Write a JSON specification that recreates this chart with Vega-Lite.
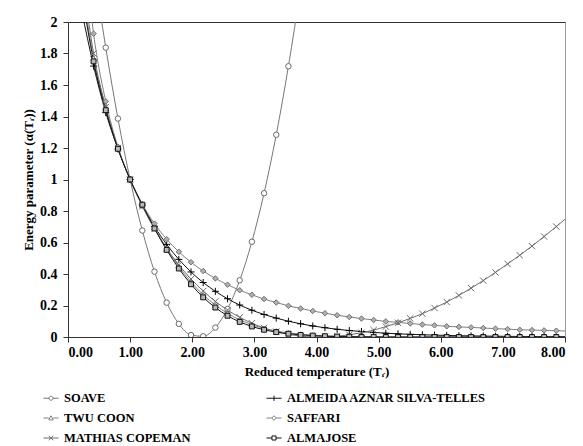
{
  "$schema": "https://vega.github.io/schema/vega-lite/v6.json",
  "width": 497,
  "height": 315,
  "autosize": {"type": "none"},
  "padding": {"left": 68, "top": 22, "right": 18, "bottom": 109},
  "background": "white",
  "config": {"view": {"stroke": "#9a9a9a", "strokeWidth": 1}, "font": "Liberation Serif"},
  "data": {"values": [
    {"T": 0.216, "SOAVE": 2.928, "ALMEIDA AZNAR SILVA-TELLES": 2.08, "TWU COON": 2.25, "SAFFARI": 2.663, "MATHIAS COPEMAN": 2.35, "ALMAJOSE": 2.2},
    {"T": 0.412, "SOAVE": 2.351, "ALMEIDA AZNAR SILVA-TELLES": 1.72, "TWU COON": 1.77, "SAFFARI": 1.926, "MATHIAS COPEMAN": 1.8, "ALMAJOSE": 1.75},
    {"T": 0.608, "SOAVE": 1.837, "ALMEIDA AZNAR SILVA-TELLES": 1.425, "TWU COON": 1.45, "SAFFARI": 1.496, "MATHIAS COPEMAN": 1.46, "ALMAJOSE": 1.44},
    {"T": 0.804, "SOAVE": 1.387, "ALMEIDA AZNAR SILVA-TELLES": 1.194, "TWU COON": 1.197, "SAFFARI": 1.208, "MATHIAS COPEMAN": 1.2, "ALMAJOSE": 1.195},
    {"T": 1.0, "SOAVE": 1, "ALMEIDA AZNAR SILVA-TELLES": 1, "TWU COON": 1, "SAFFARI": 1, "MATHIAS COPEMAN": 1, "ALMAJOSE": 1},
    {"T": 1.196, "SOAVE": 0.676, "ALMEIDA AZNAR SILVA-TELLES": 0.838, "TWU COON": 0.835, "SAFFARI": 0.843, "MATHIAS COPEMAN": 0.83, "ALMAJOSE": 0.84},
    {"T": 1.392, "SOAVE": 0.415, "ALMEIDA AZNAR SILVA-TELLES": 0.702, "TWU COON": 0.695, "SAFFARI": 0.72, "MATHIAS COPEMAN": 0.686, "ALMAJOSE": 0.689},
    {"T": 1.588, "SOAVE": 0.218, "ALMEIDA AZNAR SILVA-TELLES": 0.588, "TWU COON": 0.562, "SAFFARI": 0.621, "MATHIAS COPEMAN": 0.563, "ALMAJOSE": 0.553},
    {"T": 1.784, "SOAVE": 0.0835, "ALMEIDA AZNAR SILVA-TELLES": 0.493, "TWU COON": 0.447, "SAFFARI": 0.541, "MATHIAS COPEMAN": 0.458, "ALMAJOSE": 0.435},
    {"T": 1.98, "SOAVE": 0.0123, "ALMEIDA AZNAR SILVA-TELLES": 0.413, "TWU COON": 0.35, "SAFFARI": 0.475, "MATHIAS COPEMAN": 0.368, "ALMAJOSE": 0.335},
    {"T": 2.176, "SOAVE": 0.0044, "ALMEIDA AZNAR SILVA-TELLES": 0.346, "TWU COON": 0.268, "SAFFARI": 0.419, "MATHIAS COPEMAN": 0.292, "ALMAJOSE": 0.252},
    {"T": 2.372, "SOAVE": 0.0597, "ALMEIDA AZNAR SILVA-TELLES": 0.29, "TWU COON": 0.203, "SAFFARI": 0.372, "MATHIAS COPEMAN": 0.226, "ALMAJOSE": 0.187},
    {"T": 2.568, "SOAVE": 0.178, "ALMEIDA AZNAR SILVA-TELLES": 0.243, "TWU COON": 0.15, "SAFFARI": 0.332, "MATHIAS COPEMAN": 0.171, "ALMAJOSE": 0.135},
    {"T": 2.764, "SOAVE": 0.36, "ALMEIDA AZNAR SILVA-TELLES": 0.203, "TWU COON": 0.109, "SAFFARI": 0.297, "MATHIAS COPEMAN": 0.125, "ALMAJOSE": 0.096},
    {"T": 2.96, "SOAVE": 0.605, "ALMEIDA AZNAR SILVA-TELLES": 0.17, "TWU COON": 0.078, "SAFFARI": 0.268, "MATHIAS COPEMAN": 0.0875, "ALMAJOSE": 0.067},
    {"T": 3.156, "SOAVE": 0.913, "ALMEIDA AZNAR SILVA-TELLES": 0.143, "TWU COON": 0.055, "SAFFARI": 0.241, "MATHIAS COPEMAN": 0.057, "ALMAJOSE": 0.046},
    {"T": 3.352, "SOAVE": 1.284, "ALMEIDA AZNAR SILVA-TELLES": 0.12, "TWU COON": 0.038, "SAFFARI": 0.219, "MATHIAS COPEMAN": 0.034, "ALMAJOSE": 0.031},
    {"T": 3.548, "SOAVE": 1.719, "ALMEIDA AZNAR SILVA-TELLES": 0.1, "TWU COON": 0.026, "SAFFARI": 0.198, "MATHIAS COPEMAN": 0.017, "ALMAJOSE": 0.021},
    {"T": 3.744, "SOAVE": 2.217, "ALMEIDA AZNAR SILVA-TELLES": 0.084, "TWU COON": 0.018, "SAFFARI": 0.181, "MATHIAS COPEMAN": 0.006, "ALMAJOSE": 0.013},
    {"T": 3.94, "SOAVE": 2.778, "ALMEIDA AZNAR SILVA-TELLES": 0.07, "TWU COON": 0.012, "SAFFARI": 0.165, "MATHIAS COPEMAN": 0.001, "ALMAJOSE": 0.009},
    {"T": 4.136, "ALMEIDA AZNAR SILVA-TELLES": 0.059, "TWU COON": 0.008, "SAFFARI": 0.151, "MATHIAS COPEMAN": 0.0005, "ALMAJOSE": 0.005},
    {"T": 4.332, "ALMEIDA AZNAR SILVA-TELLES": 0.049, "TWU COON": 0.005, "SAFFARI": 0.138, "MATHIAS COPEMAN": 0.005, "ALMAJOSE": 0.003},
    {"T": 4.528, "ALMEIDA AZNAR SILVA-TELLES": 0.041, "TWU COON": 0.003, "SAFFARI": 0.127, "MATHIAS COPEMAN": 0.014, "ALMAJOSE": 0.002},
    {"T": 4.724, "ALMEIDA AZNAR SILVA-TELLES": 0.035, "TWU COON": 0.002, "SAFFARI": 0.117, "MATHIAS COPEMAN": 0.027, "ALMAJOSE": 0.001},
    {"T": 4.92, "ALMEIDA AZNAR SILVA-TELLES": 0.029, "TWU COON": 0.001, "SAFFARI": 0.108, "MATHIAS COPEMAN": 0.044, "ALMAJOSE": 0.001},
    {"T": 5.116, "ALMEIDA AZNAR SILVA-TELLES": 0.024, "TWU COON": 0.001, "SAFFARI": 0.099, "MATHIAS COPEMAN": 0.066, "ALMAJOSE": 0},
    {"T": 5.312, "ALMEIDA AZNAR SILVA-TELLES": 0.02, "TWU COON": 0.001, "SAFFARI": 0.093, "MATHIAS COPEMAN": 0.09, "ALMAJOSE": 0},
    {"T": 5.508, "ALMEIDA AZNAR SILVA-TELLES": 0.017, "TWU COON": 0, "SAFFARI": 0.086, "MATHIAS COPEMAN": 0.118, "ALMAJOSE": 0},
    {"T": 5.704, "ALMEIDA AZNAR SILVA-TELLES": 0.014, "TWU COON": 0, "SAFFARI": 0.079, "MATHIAS COPEMAN": 0.148, "ALMAJOSE": 0},
    {"T": 5.9, "ALMEIDA AZNAR SILVA-TELLES": 0.012, "TWU COON": 0, "SAFFARI": 0.074, "MATHIAS COPEMAN": 0.184, "ALMAJOSE": 0},
    {"T": 6.096, "ALMEIDA AZNAR SILVA-TELLES": 0.01, "TWU COON": 0, "SAFFARI": 0.068, "MATHIAS COPEMAN": 0.222, "ALMAJOSE": 0},
    {"T": 6.292, "ALMEIDA AZNAR SILVA-TELLES": 0.008, "TWU COON": 0, "SAFFARI": 0.064, "MATHIAS COPEMAN": 0.264, "ALMAJOSE": 0},
    {"T": 6.488, "ALMEIDA AZNAR SILVA-TELLES": 0.007, "TWU COON": 0, "SAFFARI": 0.061, "MATHIAS COPEMAN": 0.31, "ALMAJOSE": 0},
    {"T": 6.684, "ALMEIDA AZNAR SILVA-TELLES": 0.006, "TWU COON": 0, "SAFFARI": 0.057, "MATHIAS COPEMAN": 0.358, "ALMAJOSE": 0},
    {"T": 6.88, "ALMEIDA AZNAR SILVA-TELLES": 0.005, "TWU COON": 0, "SAFFARI": 0.053, "MATHIAS COPEMAN": 0.41, "ALMAJOSE": 0},
    {"T": 7.076, "ALMEIDA AZNAR SILVA-TELLES": 0.004, "TWU COON": 0, "SAFFARI": 0.05, "MATHIAS COPEMAN": 0.464, "ALMAJOSE": 0},
    {"T": 7.272, "ALMEIDA AZNAR SILVA-TELLES": 0.0035, "TWU COON": 0, "SAFFARI": 0.046, "MATHIAS COPEMAN": 0.519, "ALMAJOSE": 0},
    {"T": 7.468, "ALMEIDA AZNAR SILVA-TELLES": 0.003, "TWU COON": 0, "SAFFARI": 0.044, "MATHIAS COPEMAN": 0.577, "ALMAJOSE": 0},
    {"T": 7.664, "ALMEIDA AZNAR SILVA-TELLES": 0.0025, "TWU COON": 0, "SAFFARI": 0.042, "MATHIAS COPEMAN": 0.638, "ALMAJOSE": 0},
    {"T": 7.86, "ALMEIDA AZNAR SILVA-TELLES": 0.002, "TWU COON": 0, "SAFFARI": 0.04, "MATHIAS COPEMAN": 0.701, "ALMAJOSE": 0},
    {"T": 8.056, "ALMEIDA AZNAR SILVA-TELLES": 0.0017, "TWU COON": 0, "SAFFARI": 0.037, "MATHIAS COPEMAN": 0.766, "ALMAJOSE": 0}
  ]},
  "transform": [
    {"fold": ["SOAVE", "ALMEIDA AZNAR SILVA-TELLES", "TWU COON", "SAFFARI", "MATHIAS COPEMAN", "ALMAJOSE"], "as": ["series", "alpha"]}
  ],
  "encoding": {
    "y": {"field": "alpha", "type": "quantitative", "scale": {"domain": [0, 2], "nice": false},
      "axis": {"values": [0, 0.2, 0.4, 0.6, 0.8, 1, 1.2, 1.4, 1.6, 1.8, 2], "format": "~g", "grid": false, "labelOverlap": false,
        "title": "Energy parameter (α(Tᵣ))", "titleFont": "Liberation Serif", "titleFontWeight": "bold", "titleFontSize": 13, "titleColor": "black", "titlePadding": 4,
        "labelFont": "Liberation Serif", "labelFontWeight": "bold", "labelFontSize": 14, "labelColor": "black", "labelPadding": 6,
        "tickSize": 5, "tickColor": "#333", "domainColor": "#333"}}
  },
  "layer": [
    {
      "mark": {"type": "line", "interpolate": "monotone", "clip": true, "strokeWidth": 1},
      "encoding": {
        "x": {"field": "T", "type": "quantitative", "scale": {"domain": [0, 8], "nice": false},
          "axis": {"orient": "bottom", "values": [0, 1, 2, 3, 4, 5, 6, 7, 8], "format": ".2f", "grid": false, "labelOverlap": false,
            "title": "Reduced temperature (Tᵣ)", "titleFont": "Liberation Serif", "titleFontWeight": "bold", "titleFontSize": 13, "titleColor": "black", "titlePadding": 6,
            "labelFont": "Liberation Serif", "labelFontWeight": "bold", "labelFontSize": 14, "labelColor": "black", "labelPadding": 3,
            "tickSize": 5, "tickColor": "#333", "domainColor": "#333"}},
        "color": {"field": "series", "type": "nominal",
          "scale": {"domain": ["SOAVE", "ALMEIDA AZNAR SILVA-TELLES", "TWU COON", "SAFFARI", "MATHIAS COPEMAN", "ALMAJOSE"],
                    "range": ["#777777", "#111111", "#808080", "#808080", "#6e6e6e", "#111111"]},
          "legend": {"orient": "none", "legendX": -25, "legendY": 368, "columns": 2, "direction": "horizontal", "title": null, "padding": 0,
            "labelFont": "Liberation Serif", "labelFontWeight": "bold", "labelFontSize": 12.5, "labelColor": "black", "labelLimit": 400,
            "symbolSize": 225, "symbolStrokeWidth": 1, "labelOffset": 5, "columnPadding": 73, "rowPadding": 5,
            "encode": {"symbols": {"update": {
              "shape": {"signal": "datum.value === 'SOAVE' ? 'M-1,0H-0.27M0.27,0H1M-0.27,0A0.27,0.27 0 1,0 0.27,0A0.27,0.27 0 1,0 -0.27,0' : datum.value === 'ALMEIDA AZNAR SILVA-TELLES' ? 'M-1,0H1M0,-0.35V0.35' : datum.value === 'TWU COON' ? 'M-1,0H-0.3M0.3,0H1M0,-0.3L0.3,0.25H-0.3Z' : datum.value === 'SAFFARI' ? 'M-1,0H-0.3M0.3,0H1M0,-0.3L0.3,0L0,0.3L-0.3,0Z' : datum.value === 'MATHIAS COPEMAN' ? 'M-1,0H1M-0.3,-0.3L0.3,0.3M0.3,-0.3L-0.3,0.3' : 'M-1,0H-0.27M0.27,0H1M-0.27,-0.27H0.27V0.27H-0.27Z'"},
              "strokeWidth": {"value": 1}}}}}
        }
      }
    },
    {
      "transform": [{"filter": {"field": "series", "equal": "SOAVE"}}],
      "mark": {"type": "point", "shape": "circle", "size": 30, "filled": true, "fill": "#ffffff", "stroke": "#6a6a6a", "strokeWidth": 1, "opacity": 1, "clip": true},
      "encoding": {
        "x": {"field": "T", "type": "quantitative", "axis": {"orient": "top", "labels": false, "ticks": false, "title": null, "grid": false, "domainColor": "#333"}}
      }
    },
    {
      "transform": [{"filter": {"field": "series", "equal": "ALMEIDA AZNAR SILVA-TELLES"}}],
      "mark": {"type": "point", "shape": "M-1,0H1M0,-1V1", "size": 49, "filled": false, "stroke": "#000000", "strokeWidth": 1, "opacity": 1, "clip": true},
      "encoding": {"x": {"field": "T", "type": "quantitative", "axis": null}}
    },
    {
      "transform": [{"filter": {"field": "series", "equal": "TWU COON"}}],
      "mark": {"type": "point", "shape": "triangle-up", "size": 28, "filled": true, "fill": "#ffffff", "stroke": "#707070", "strokeWidth": 1, "opacity": 1, "clip": true},
      "encoding": {"x": {"field": "T", "type": "quantitative", "axis": null}}
    },
    {
      "transform": [{"filter": {"field": "series", "equal": "SAFFARI"}}],
      "mark": {"type": "point", "shape": "diamond", "size": 30, "filled": true, "fill": "#b0b0b0", "stroke": "#707070", "strokeWidth": 1, "opacity": 1, "clip": true},
      "encoding": {"x": {"field": "T", "type": "quantitative", "axis": null}}
    },
    {
      "transform": [{"filter": {"field": "series", "equal": "MATHIAS COPEMAN"}}],
      "mark": {"type": "point", "shape": "M-1,-1L1,1M1,-1L-1,1", "size": 40, "filled": false, "stroke": "#6a6a6a", "strokeWidth": 1, "opacity": 1, "clip": true},
      "encoding": {"x": {"field": "T", "type": "quantitative", "axis": null}}
    },
    {
      "transform": [{"filter": {"field": "series", "equal": "ALMAJOSE"}}],
      "mark": {"type": "point", "shape": "square", "size": 24, "filled": true, "fill": "#b8b8b8", "stroke": "#111111", "strokeWidth": 1, "opacity": 1, "clip": true},
      "encoding": {"x": {"field": "T", "type": "quantitative", "axis": null}}
    }
  ],
  "resolve": {"axis": {"x": "independent"}}
}
